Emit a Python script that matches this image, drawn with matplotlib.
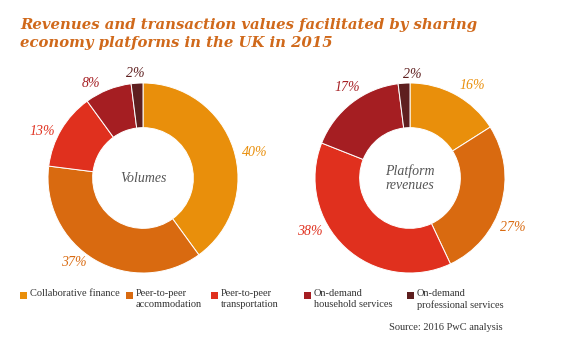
import numpy as np
import matplotlib
matplotlib.use("Agg")
import matplotlib.pyplot as plt
from matplotlib.patches import Rectangle

# Datos
categorias = ["Collaborative finance", "Peer-to-peer\naccommodation", "Peer-to-peer\ntransportation",
              "On-demand\nhousehold services", "On-demand\nprofessional services"]
volumes = [40, 37, 13, 8, 2]
revenues = [16, 27, 38, 17, 2]
colores = ["#E98F0B", "#D96A10", "#E0301E", "#A51E22", "#5E1F1F"]

titulo = "Revenues and transaction values facilitated by sharing\neconomy platforms in the UK in 2015"
fuente = "Source: 2016 PwC analysis"

# posición de las etiquetas de porcentaje (ángulo en grados, radio relativo)
ang_vol = [13, 231, 155, 119, 94]
rad_vol = [1.21, 1.15, 1.17, 1.14, 1.10]
ang_rev = [56, -26, 208, 125, 89]
rad_rev = [1.17, 1.2, 1.2, 1.16, 1.09]

W, H = 570, 351
fig = plt.figure(figsize=(W / 100, H / 100), dpi=100)

serif = "Liberation Serif"

fig.text(20 / W, 1 - 18 / H, titulo, ha="left", va="top", fontsize=10.7, fontweight="bold",
         fontstyle="italic", family="DejaVu Serif", color="#D0691B", linespacing=1.35)


def dona(cx, cy, valores, centro, angs, rads):
    r = 95
    ax = fig.add_axes([(cx - r) / W, 1 - (cy + r) / H, 2 * r / W, 2 * r / H])
    ax.pie(valores, colors=colores, startangle=90, counterclock=False, radius=1,
           wedgeprops=dict(width=0.47, edgecolor="white", linewidth=0.7))
    ax.set_xlim(-1, 1)
    ax.set_ylim(-1, 1)
    ax.set_aspect("equal")
    ax.axis("off")
    for v, c, a, rr in zip(valores, colores, angs, rads):
        a = np.deg2rad(a)
        ax.text(rr * np.cos(a), rr * np.sin(a), f"{v}%", ha="center", va="center",
                fontsize=10, fontstyle="italic", family=serif, color=c)
    ax.text(0, 0, centro, ha="center", va="center", fontsize=10, fontstyle="italic",
            family=serif, color="#555555", linespacing=1.1)


dona(143, 178, volumes, "Volumes", ang_vol, rad_vol)
dona(410, 178, revenues, "Platform\nrevenues", ang_rev, rad_rev)

# Leyenda
xs = [20, 126, 211, 304, 407]
for x, lab, c in zip(xs, categorias, colores):
    fig.add_artist(Rectangle((x / W, 1 - 299 / H), 7 / W, 7 / H, transform=fig.transFigure,
                             facecolor=c, edgecolor="none"))
    fig.text((x + 10) / W, 1 - 289 / H, lab, ha="left", va="top", fontsize=7.5, family=serif,
             color="#333333", linespacing=1.3)

fig.text(503 / W, 1 - 328 / H, fuente, ha="right", va="center", fontsize=7.5, family=serif,
         color="#333333")

fig.savefig("out.png", dpi=100, facecolor="white")
